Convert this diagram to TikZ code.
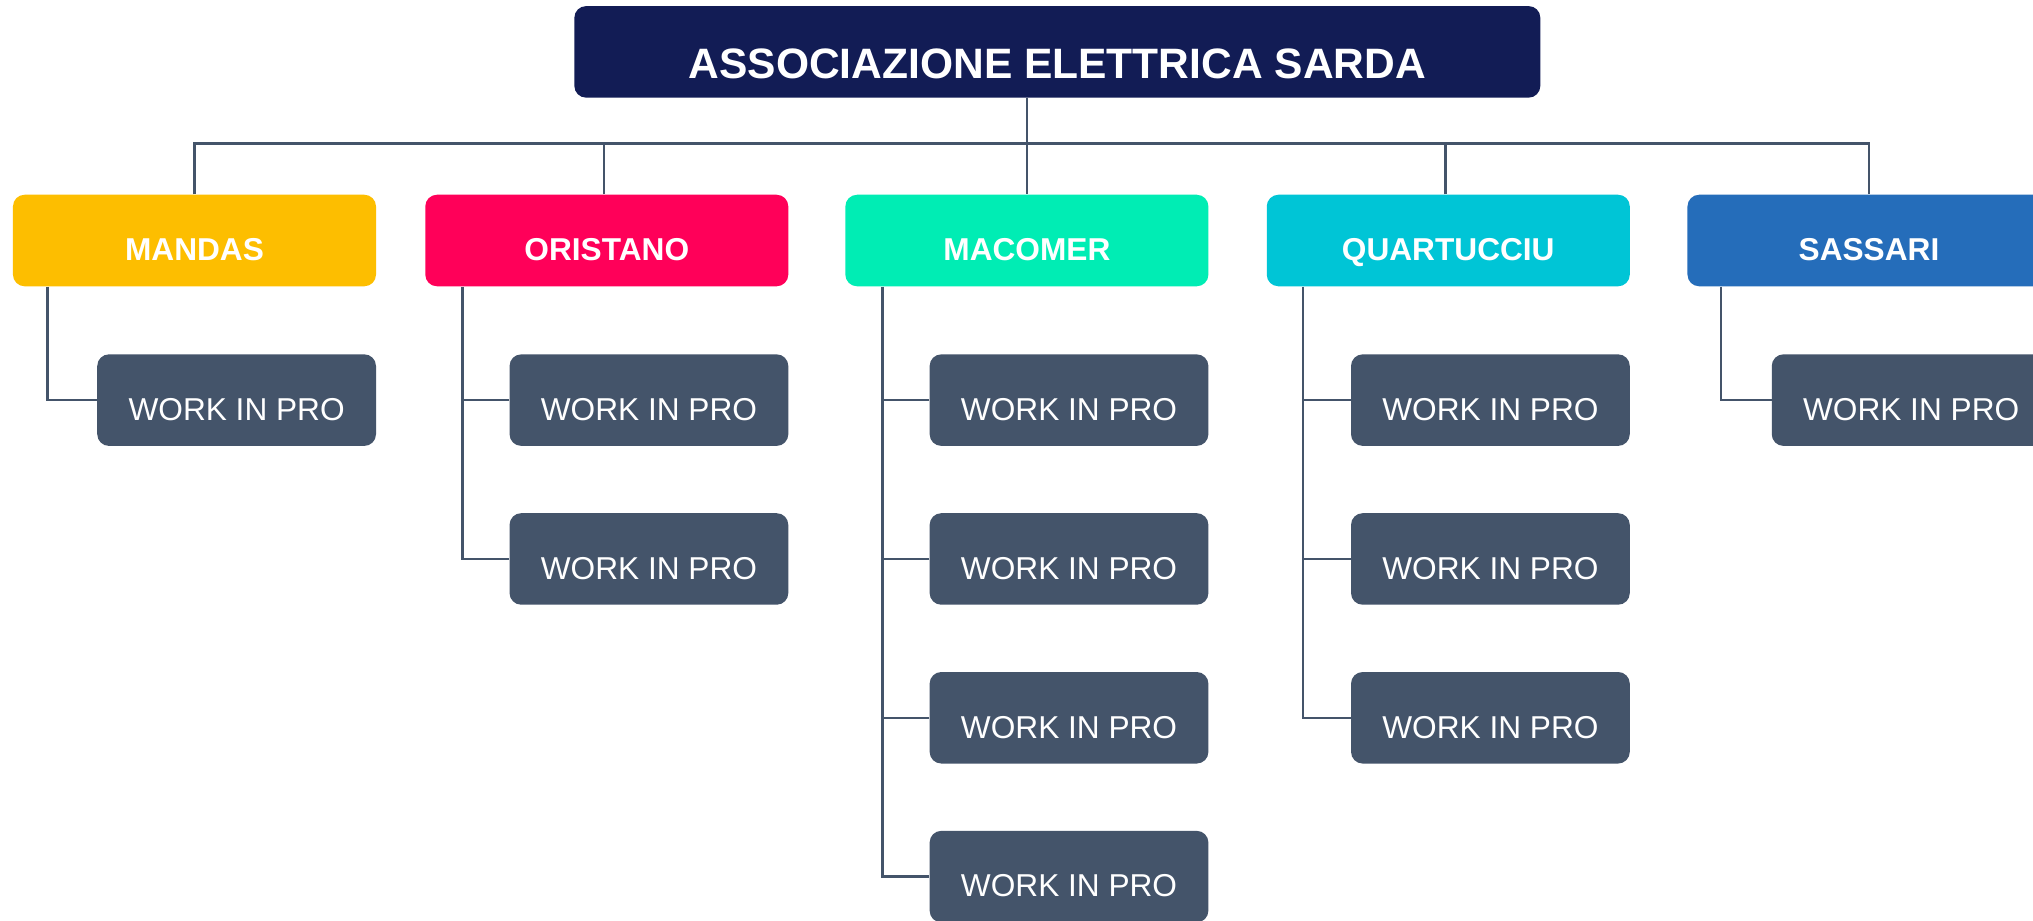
\documentclass[tikz,border=0pt]{standalone}
\usepackage{fontspec}
\setmainfont{Liberation Sans}
\definecolor{navy}{HTML}{121C55}
\definecolor{slate}{HTML}{44546A}
\definecolor{cMandas}{HTML}{FDBE00}
\definecolor{cOristano}{HTML}{FF0059}
\definecolor{cMacomer}{HTML}{00EDB4}
\definecolor{cQuart}{HTML}{00C5D6}
\definecolor{cSassari}{HTML}{256DBA}
\begin{document}
\begin{tikzpicture}[x=1pt,y=-1pt,
  box/.style={rectangle, rounded corners=9pt, inner sep=0pt, text=white, minimum height=70.6pt},
  topbox/.style={box, fill=navy, minimum width=745pt, font=\fontsize{32.8}{36}\selectfont\bfseries, text height=40.5pt, text depth=0pt},
  lvl/.style={box, minimum width=280pt, font=\fontsize{24.4}{28}\selectfont\bfseries, text height=30.5pt, text depth=0pt},
  leaf/.style={box, fill=slate, minimum width=215pt, font=\fontsize{24.4}{28}\selectfont, text height=31.4pt, text depth=0pt},
  conn/.style={draw=slate, line width=1.9pt}]
\path[use as bounding box, clip] (0,0) rectangle (1568,709.6);
\fill[white] (0,0) rectangle (1568,709.6);

% title
\node[topbox] (title) at (815.5,40) {ASSOCIAZIONE ELETTRICA SARDA};

% level 1
\node[lvl, fill=cMandas]   (mandas)   at (150,185.5)  {MANDAS};
\node[lvl, fill=cOristano] (oristano) at (468,185.5)  {ORISTANO};
\node[lvl, fill=cMacomer]  (macomer)  at (792,185.5)  {MACOMER};
\node[lvl, fill=cQuart]    (quart)    at (1117,185.5) {QUARTUCCIU};
\node[lvl, fill=cSassari]  (sassari)  at (1441.5,185.5) {SASSARI};

% level 2
\node[leaf] (ma1) at (182.5,308.6) {WORK IN PRO};
\node[leaf] (or1) at (500.5,308.6) {WORK IN PRO};
\node[leaf] (or2) at (500.5,431.1) {WORK IN PRO};
\node[leaf] (mc1) at (824.5,308.6) {WORK IN PRO};
\node[leaf] (mc2) at (824.5,431.1) {WORK IN PRO};
\node[leaf] (mc3) at (824.5,553.6) {WORK IN PRO};
\node[leaf] (mc4) at (824.5,676.1) {WORK IN PRO};
\node[leaf] (qu1) at (1149.5,308.6) {WORK IN PRO};
\node[leaf] (qu2) at (1149.5,431.1) {WORK IN PRO};
\node[leaf] (qu3) at (1149.5,553.6) {WORK IN PRO};
\node[leaf] (sa1) at (1474,308.6) {WORK IN PRO};

% bus
\coordinate (bus) at (0,110.5);
\draw[conn] (mandas.north) -- (mandas.north |- bus) -- (sassari.north |- bus) -- (sassari.north);
\draw[conn] ([xshift=-2pt]oristano.north) -- ([xshift=-2pt]oristano.north |- bus);
\draw[conn] ([xshift=-2pt]quart.north) -- ([xshift=-2pt]quart.north |- bus);
\draw[conn] (title.south -| macomer.north) -- (macomer.north);

% child trunks
\coordinate (maT) at ([xshift=27pt]mandas.south west);
\coordinate (orT) at ([xshift=29pt]oristano.south west);
\coordinate (mcT) at ([xshift=29pt]macomer.south west);
\coordinate (quT) at ([xshift=28pt]quart.south west);
\coordinate (saT) at ([xshift=26pt]sassari.south west);

\draw[conn] (maT) |- (ma1.west);
\draw[conn] (orT) |- (or2.west);
\draw[conn] (or1.west) -- (or1.west -| orT);
\draw[conn] (mcT) |- (mc4.west);
\foreach \c in {mc1,mc2,mc3} \draw[conn] (\c.west) -- (\c.west -| mcT);
\draw[conn] (quT) |- (qu3.west);
\foreach \c in {qu1,qu2} \draw[conn] (\c.west) -- (\c.west -| quT);
\draw[conn] (saT) |- (sa1.west);
\end{tikzpicture}
\end{document}
